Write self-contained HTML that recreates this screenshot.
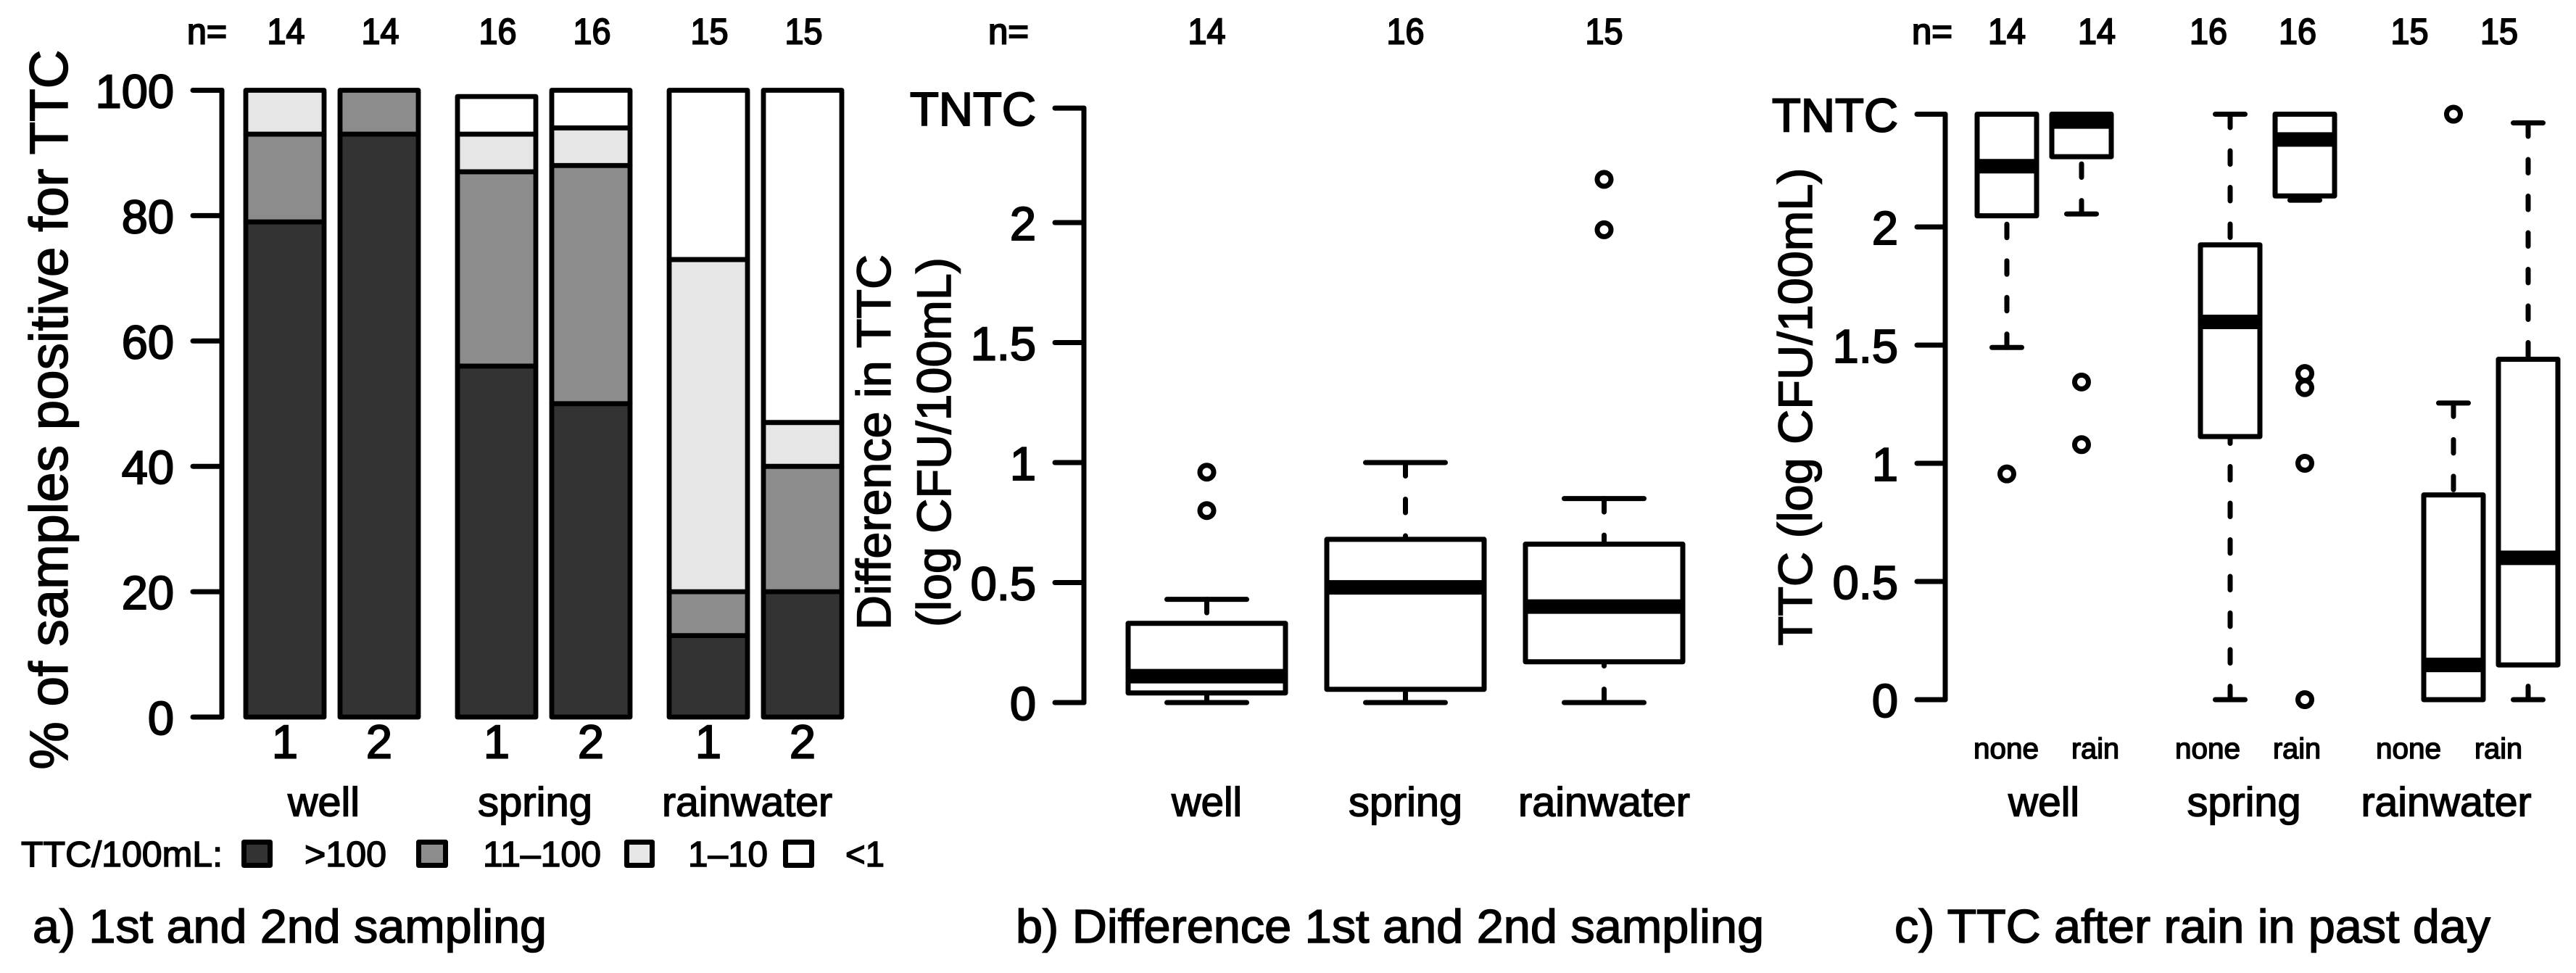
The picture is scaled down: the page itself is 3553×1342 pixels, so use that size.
<!DOCTYPE html>
<html lang="en">
<head>
<meta charset="utf-8">
<title>TTC sampling charts</title>
<style>
html,body{margin:0;padding:0;background:#fff;}
svg{display:block;}
text{font-family:"Liberation Sans",sans-serif;fill:#000;stroke:#000;stroke-width:1.5px;}
text.heavy{stroke-width:2px;}
</style>
</head>
<body>
<svg id="chart" xmlns="http://www.w3.org/2000/svg" width="3553" height="1342" viewBox="0 0 3553 1342">
  <rect x="0" y="0" width="3553" height="1342" fill="#fff"/>

  <g id="panel-a">
    <text transform="rotate(-90 93 565)" x="93" y="565" text-anchor="middle" font-size="74" textLength="993" lengthAdjust="spacingAndGlyphs">% of samples positive for TTC</text>
    <text class="heavy" x="258" y="60.5" font-size="50" textLength="55" lengthAdjust="spacingAndGlyphs">n=</text>
    <text x="29" y="1195" font-size="49" textLength="278" lengthAdjust="spacingAndGlyphs">TTC/100mL:</text>
    <rect x="336.5" y="1161.5" width="36" height="32" fill="#333333" stroke="#000" stroke-width="7" stroke-linejoin="round"/>
    <text x="420" y="1195" font-size="49" textLength="113" lengthAdjust="spacingAndGlyphs">&gt;100</text>
    <rect x="577.5" y="1161.5" width="37" height="32" fill="#8c8c8c" stroke="#000" stroke-width="7" stroke-linejoin="round"/>
    <text x="666" y="1195" font-size="49" textLength="163" lengthAdjust="spacingAndGlyphs">11–100</text>
    <rect x="864.5" y="1161.5" width="35" height="32" fill="#e6e6e6" stroke="#000" stroke-width="7" stroke-linejoin="round"/>
    <text x="949" y="1195" font-size="49" textLength="110" lengthAdjust="spacingAndGlyphs">1–10</text>
    <rect x="1083.5" y="1161.5" width="36" height="32" fill="#ffffff" stroke="#000" stroke-width="7" stroke-linejoin="round"/>
    <text x="1166" y="1195" font-size="49" textLength="54" lengthAdjust="spacingAndGlyphs">&lt;1</text>
    <text x="45" y="1300" font-size="65" textLength="709" lengthAdjust="spacingAndGlyphs">a) 1st and 2nd sampling</text>
  </g>

  <g id="panel-b">
    <text transform="rotate(-90 1228 610)" x="1228" y="610" text-anchor="middle" font-size="66" textLength="518" lengthAdjust="spacingAndGlyphs">Difference in TTC</text>
    <text transform="rotate(-90 1311 610)" x="1311" y="610" text-anchor="middle" font-size="66" textLength="510" lengthAdjust="spacingAndGlyphs">(log CFU/100mL)</text>
    <text class="heavy" x="1363" y="60.5" font-size="50" textLength="56" lengthAdjust="spacingAndGlyphs">n=</text>
    <text x="1401" y="1300" font-size="65" textLength="1032" lengthAdjust="spacingAndGlyphs">b) Difference 1st and 2nd sampling</text>
  </g>

  <g id="panel-c">
    <text transform="rotate(-90 2499 561)" x="2499" y="561" text-anchor="middle" font-size="66" textLength="659" lengthAdjust="spacingAndGlyphs">TTC (log CFU/100mL)</text>
    <text class="heavy" x="2637" y="60.5" font-size="50" textLength="56" lengthAdjust="spacingAndGlyphs">n=</text>
    <text x="2613" y="1300" font-size="65" textLength="822" lengthAdjust="spacingAndGlyphs">c) TTC after rain in past day</text>
  </g>
</svg>

<script>
// ---------- shared categories ----------
const groupNames = ["well", "spring", "rainwater"];

// ---------- panel a data (percent per category, bottom to top) ----------
const aSamplingLabels = ["1", "2", "1", "2", "1", "2"];
const aCounts = [14, 14, 16, 16, 15, 15];
const aOver100 = [79, 93, 56, 50, 13, 20];
const a11to100 = [14, 7, 31, 38, 7, 20];
const a1to10 = [7, 0, 6, 6, 53, 7];
const aUnder1 = [0, 0, 6, 6, 27, 53];
const aTicks = [0, 20, 40, 60, 80, 100];

// ---------- panel b data ----------
const bCounts = [14, 16, 15];
const bLow = [0, 0, 0];
const bQ1 = [0.04, 0.055, 0.17];
const bMedian = [0.11, 0.48, 0.40];
const bQ3 = [0.33, 0.68, 0.66];
const bHigh = [0.43, 1.0, 0.85];
const bOutliers = [[0.8, 0.96], [], [1.97, 2.18]];
const bTicks = [0, 0.5, 1, 1.5, 2, 2.477];
const bTickLabels = ["0", "0.5", "1", "1.5", "2", "TNTC"];

// ---------- panel c data ----------
const cCounts = [14, 14, 16, 16, 15, 15];
const cRainLabels = ["none", "rain", "none", "rain", "none", "rain"];
const cLow = [1.49, 2.055, 0, 2.113, 0, 0];
const cQ1 = [2.047, 2.297, 1.113, 2.131, 0, 0.147];
const cMedian = [2.257, 2.446, 1.598, 2.37, 0.147, 0.60];
const cQ3 = [2.477, 2.477, 1.924, 2.477, 0.866, 1.44];
const cHigh = [2.477, 2.477, 2.477, 2.477, 1.255, 2.44];
const cOutliers = [[0.955], [1.344, 1.079], [], [1.38, 1.32, 1.0, 0], [2.477], []];
const cTicks = [0, 0.5, 1, 1.5, 2, 2.477];
const cTickLabels = ["0", "0.5", "1", "1.5", "2", "TNTC"];

// ---------- axis functions ----------
function yA(v) { return 989 - v * 8.645; }
function xA(i) { return 393 + 292 * Math.floor(i / 2) + 130 * (i % 2); }
function yB(v) { return 969 - v * 331; }
function xB(i) { return 1664.5 + 274 * i; }
function yC(v) { return 965 - v * 326; }
function xC(i) { return 2768 + 308 * Math.floor(i / 2) + 103 * (i % 2); }

const NS = "http://www.w3.org/2000/svg";
function make(parent, tag, props) {
  const el = document.createElementNS(NS, tag);
  for (const k in props) el.setAttribute(k, props[k]);
  parent.appendChild(el);
  return el;
}
function lineProps(x1, y1, x2, y2, w) {
  return { x1: x1, y1: y1, x2: x2, y2: y2, stroke: "#000", "stroke-width": w, "stroke-linecap": "round" };
}
function addText(parent, x, y, str, size, anchor, len) {
  const el = make(parent, "text", { x: x, y: y, "font-size": size, "text-anchor": anchor });
  if (len) {
    el.setAttribute("textLength", len);
    el.setAttribute("lengthAdjust", "spacingAndGlyphs");
  }
  el.textContent = str;
  return el;
}

function drawAxis(parent, prefix, ticks, labels, yFn, axisX, tickX, labelX, labelW) {
  const axis = make(parent, "line", lineProps(axisX, yFn(ticks[0]), axisX, yFn(ticks[ticks.length - 1]), 7));
  
  
  ticks.forEach(function (t, i) {
    const tick = make(parent, "line", lineProps(tickX, yFn(t), axisX, yFn(t), 7));
    
    
    const lab = addText(parent, labelX, yFn(t) + 24, labels[i], 65, "end", labelW[i]);
    lab.setAttribute("class", "heavy");
    
    
  });
}

function drawBox(parent, prefix, cx, halfBox, halfCap, yFn, low, q1, med, q3, high, outliers) {
  const dash = "18.5 32";
  const upper = make(parent, "line", lineProps(cx, yFn(high), cx, yFn(q3), 7));
  upper.setAttribute("stroke-dasharray", dash);
  
  
  const lower = make(parent, "line", lineProps(cx, yFn(low), cx, yFn(q1), 7));
  lower.setAttribute("stroke-dasharray", dash);
  
  
  const capHi = make(parent, "line", lineProps(cx - halfCap, yFn(high), cx + halfCap, yFn(high), 7));
  
  
  const capLo = make(parent, "line", lineProps(cx - halfCap, yFn(low), cx + halfCap, yFn(low), 7));
  
  
  const box = make(parent, "rect", {
    x: cx - halfBox, y: yFn(q3), width: halfBox * 2, height: yFn(q1) - yFn(q3),
    fill: "#fff", stroke: "#000", "stroke-width": 7, "stroke-linejoin": "round"
  });
  
  
  const medLine = make(parent, "line", {
    x1: cx - halfBox, y1: yFn(med), x2: cx + halfBox, y2: yFn(med), stroke: "#000", "stroke-width": 20
  });
  
  
  outliers.forEach(function (v) {
    const dot = make(parent, "circle", { cx: cx, cy: yFn(v), r: 9.5, fill: "none", stroke: "#000", "stroke-width": 7 });
    
    
  });
}

// ---------- panel a ----------
const pa = document.getElementById("panel-a");
drawAxis(pa, "panel-a", aTicks, aTicks.map(String), yA, 306, 266, 240, [0, 0, 0, 0, 0, 0]);
const aSeries = [aOver100, a11to100, a1to10, aUnder1];
const aSeriesNames = ["over-100", "11-100", "1-10", "under-1"];
const aFills = ["#333333", "#8c8c8c", "#e6e6e6", "#ffffff"];
aCounts.forEach(function (n, i) {
  let base = 0;
  aSeries.forEach(function (series, s) {
    const v = series[i];
    if (v > 0) {
      const seg = make(pa, "rect", {
        x: xA(i) - 54, y: yA(base + v), width: 108, height: yA(base) - yA(base + v),
        fill: aFills[s], stroke: "#000", "stroke-width": 6.8, "stroke-linejoin": "round"
      });
      
      
    }
    base += v;
  });
  const count = addText(pa, xA(i) + 1.5, 60.5, String(n), 50, "middle", 52);
  count.setAttribute("class", "heavy");
  
  
  const sub = addText(pa, xA(i), 1045.5, aSamplingLabels[i], 65, "middle", 0);
  sub.setAttribute("class", "heavy");
  
  
});
const aGroupX = [446.5, 738, 1030.5];
const aGroupW = [99, 158, 235];
groupNames.forEach(function (g, i) {
  const t = addText(pa, aGroupX[i], 1125.5, g, 57, "middle", aGroupW[i]);
  
  
});

// ---------- panel b ----------
const pb = document.getElementById("panel-b");
drawAxis(pb, "panel-b", bTicks, bTickLabels, yB, 1495, 1455, 1429, [0, 0, 0, 0, 0, 174]);
groupNames.forEach(function (g, i) {
  drawBox(pb, "panel-b-" + g, xB(i), 108.5, 55, yB, bLow[i], bQ1[i], bMedian[i], bQ3[i], bHigh[i], bOutliers[i]);
  const count = addText(pb, xB(i), 60.5, String(bCounts[i]), 50, "middle", 52);
  count.setAttribute("class", "heavy");
  
  
});
const bGroupW = [97, 157, 237];
groupNames.forEach(function (g, i) {
  const t = addText(pb, xB(i), 1125.5, g, 57, "middle", bGroupW[i]);
  
  
});

// ---------- panel c ----------
const pc = document.getElementById("panel-c");
drawAxis(pc, "panel-c", cTicks, cTickLabels, yC, 2683, 2644, 2618, [0, 0, 0, 0, 0, 174]);
const cCountX = [2768, 2892, 3046, 3169, 3323.5, 3447];
const cRainX = [2767, 2890, 3045, 3168, 3322, 3446];
cCounts.forEach(function (n, i) {
  drawBox(pc, "panel-c-" + groupNames[Math.floor(i / 2)] + "-" + cRainLabels[i], xC(i), 41, 20.5, yC, cLow[i], cQ1[i], cMedian[i], cQ3[i], cHigh[i], cOutliers[i]);
  const count = addText(pc, cCountX[i], 60.5, String(n), 50, "middle", 52);
  count.setAttribute("class", "heavy");
  
  
  const lab = addText(pc, cRainX[i], 1046, cRainLabels[i], 40, "middle", cRainLabels[i] === "none" ? 90 : 66);
  
  
});
const cGroupX = [2819, 3095, 3374];
const cGroupW = [98, 157, 235];
groupNames.forEach(function (g, i) {
  const t = addText(pc, cGroupX[i], 1125.5, g, 57, "middle", cGroupW[i]);
  
  
});
</script>
</body>
</html>
